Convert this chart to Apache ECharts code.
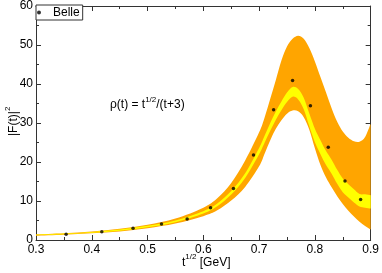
<!DOCTYPE html>
<html><head><meta charset="utf-8">
<script src="https://cdn.jsdelivr.net/npm/echarts@6/dist/echarts.min.js"></script>
<style>html,body{margin:0;padding:0;background:#fff}#c{width:382px;height:273px}</style>
</head><body><div id="c"></div>
<script>
var xs      = [0.30,0.35,0.40,0.45,0.50,0.55,0.60,0.625,0.65,0.675,0.70,0.71,0.72,0.73,0.74,0.75,0.76,0.77,0.78,0.79,0.80,0.81,0.82,0.83,0.84,0.85,0.86,0.87,0.88,0.89,0.90];
var orangeUp= [1.45,1.75,2.2,2.9,3.9,5.5,8.3,10.7,14.6,20.4,27.6,31.5,36.2,41.0,46.0,49.6,51.6,52.4,51.6,49.2,45.8,41.8,37.8,33.8,30.3,27.8,26.2,25.3,25.2,26.4,29.8];
var orangeLo= [1.1,1.35,1.7,2.2,3.0,4.2,6.1,7.6,10.1,13.6,18.9,22.2,25.6,28.5,30.7,32.4,33.2,33.0,31.5,28.3,23.5,19.2,16.0,13.5,11.2,9.2,7.5,6.0,4.7,3.6,2.7];
var yellowUp= [1.36,1.65,2.07,2.70,3.63,5.02,7.4,9.35,12.55,17.1,23.6,26.8,30.0,32.95,35.5,37.8,39.25,38.75,36.5,32.45,28.55,25.6,22.8,20.6,18.0,15.75,14.3,13.0,11.8,11.7,11.5];
var yellowLo= [1.20,1.45,1.83,2.40,3.27,4.58,6.8,8.65,11.65,15.9,22.0,25.0,28.0,30.85,33.3,35.4,36.75,36.05,33.5,29.15,25.05,22.0,19.2,17.0,14.4,12.25,10.9,9.6,8.6,8.3,8.1];
var belleX  = [0.354,0.418,0.474,0.525,0.571,0.613,0.654,0.690,0.726,0.760,0.792,0.824,0.854,0.882];
var belleY  = [1.5,2.1,3.0,4.1,5.4,8.3,13.2,21.8,33.4,40.9,34.4,23.8,15.1,10.4];

var FONT='Liberation Sans';

// smooth (Catmull-Rom) path through pixel points
function curvePath(pts, start){
  var d = start ? 'M'+pts[0][0]+' '+pts[0][1] : 'L'+pts[0][0]+' '+pts[0][1];
  for (var i=0;i<pts.length-1;i++){
    var p0=pts[Math.max(i-1,0)], p1=pts[i], p2=pts[i+1], p3=pts[Math.min(i+2,pts.length-1)];
    var c1x=p1[0]+(p2[0]-p0[0])/6, c1y=p1[1]+(p2[1]-p0[1])/6;
    var c2x=p2[0]-(p3[0]-p1[0])/6, c2y=p2[1]-(p3[1]-p1[1])/6;
    d += ' C'+c1x+' '+c1y+' '+c2x+' '+c2y+' '+p2[0]+' '+p2[1];
  }
  return d;
}
function bandRenderer(up, lo, color){
  return function(params, api){
    var top = xs.map(function(x,i){return api.coord([x, up[i]]);});
    var bot = xs.map(function(x,i){return api.coord([x, lo[i]]);}).reverse();
    var d = curvePath(top,true) + ' ' + curvePath(bot,false) + ' Z';
    return {type:'path', shape:{pathData:d}, style:{fill:color, stroke:null}};
  };
}

var axisCommon = {
  type:'value', axisLine:{show:true,onZero:false,lineStyle:{color:'#333',width:1}},
  axisTick:{show:true,inside:true,length:5,lineStyle:{color:'#333'}},
  minorTick:{show:true,splitNumber:2,length:3,lineStyle:{color:'#333'}},
  splitLine:{show:false}
};
function ax(o){return Object.assign({},axisCommon,o);}

var chart = echarts.init(document.getElementById('c'));
chart.setOption({
  animation:false,
  textStyle:{fontFamily:FONT},
  grid:{left:36,right:10,top:5,bottom:33,containLabel:false},
  legend:{
    left:36, top:5, orient:'horizontal',
    data:[{name:'Belle',icon:'circle'}],
    itemWidth:18, itemHeight:4, itemGap:5,
    padding:[1,3,1,1], borderColor:'#333', borderWidth:1, backgroundColor:'#fff',
    textStyle:{fontFamily:FONT,fontSize:12,color:'#000',lineHeight:13}
  },
  xAxis:[
    ax({position:'bottom',min:0.3,max:0.9,interval:0.1,
        axisLabel:{show:true,margin:4,color:'#000',fontSize:12,fontFamily:FONT,
          formatter:function(v){return (Math.round(v*10)/10).toFixed(1);}}}),
    ax({position:'top',min:0.3,max:0.9,interval:0.1,axisLabel:{show:false}})
  ],
  yAxis:[
    ax({position:'left',min:0,max:60,interval:10,
        axisLabel:{show:true,margin:3,color:'#000',fontSize:12,fontFamily:FONT}}),
    ax({position:'right',min:0,max:60,interval:10,axisLabel:{show:false}})
  ],
  series:[
    {type:'custom',name:'orangeBand',data:[[0.3,0]],renderItem:bandRenderer(orangeUp,orangeLo,'#FFA500'),silent:true,z:1},
    {type:'custom',name:'yellowBand',data:[[0.3,0]],renderItem:bandRenderer(yellowUp,yellowLo,'#FFFF00'),silent:true,z:2},
    {type:'scatter',name:'Belle',data:belleX.map(function(x,i){return [x,belleY[i]];}),symbol:'circle',symbolSize:3.5,itemStyle:{color:'#000'},z:5}
  ],
  graphic:[
    {type:'text',left:110,top:96,z:10,style:{
      text:'{a|ρ(t) = t}{s|1/2}{a|/(t+3)}',
      rich:{a:{fontSize:12,fontFamily:FONT,fill:'#000',lineHeight:15,verticalAlign:'bottom'},
            s:{fontSize:8,fontFamily:FONT,fill:'#000',lineHeight:15,verticalAlign:'top'}}}},
    {type:'text',left:182,top:253,z:10,style:{
      text:'{a|t}{s|1/2}{a| [GeV]}',
      rich:{a:{fontSize:12,fontFamily:FONT,fill:'#000',lineHeight:16,verticalAlign:'bottom'},
            s:{fontSize:8,fontFamily:FONT,fill:'#000',lineHeight:16,verticalAlign:'top'}}}},
    {type:'text',x:4,y:136,rotation:Math.PI/2,z:10,style:{
      text:'{a||F(t)|}{s|2}',
      rich:{a:{fontSize:12,fontFamily:FONT,fill:'#000',lineHeight:16,verticalAlign:'bottom'},
            s:{fontSize:8,fontFamily:FONT,fill:'#000',lineHeight:16,verticalAlign:'top'}}}}
  ]
});
</script></body></html>
